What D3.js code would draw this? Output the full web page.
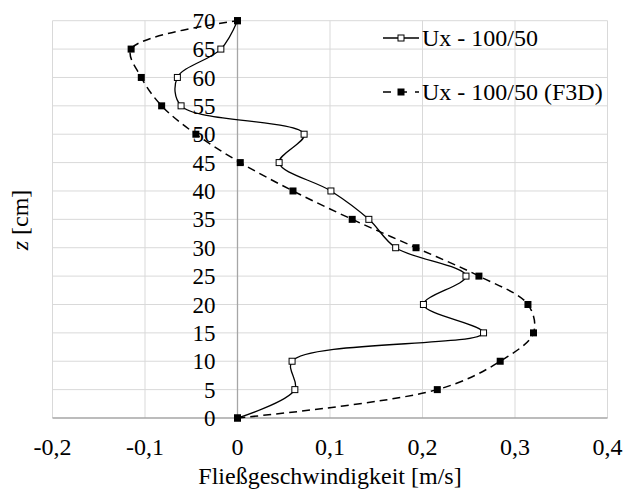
<!DOCTYPE html>
<html>
<head>
<meta charset="utf-8">
<script src="https://cdn.jsdelivr.net/npm/d3@7"></script>
<style>
  html, body { margin: 0; padding: 0; background: #fff; }
  svg text { font-family: "Liberation Serif", "Times New Roman", serif; }
</style>
</head>
<body>
<svg id="chart" width="624" height="495"></svg>
<script>
// ---- data ----
const zValues = [0, 5, 10, 15, 20, 25, 30, 35, 40, 45, 50, 55, 60, 65, 70];
const uxMeasured = [0, 0.062, 0.059, 0.266, 0.201, 0.247, 0.171, 0.142, 0.101, 0.045, 0.072, -0.061, -0.065, -0.018, 0];
const uxF3D = [0, 0.216, 0.284, 0.320, 0.314, 0.261, 0.193, 0.124, 0.060, 0.003, -0.045, -0.082, -0.104, -0.115, 0];
const seriesNames = ["Ux - 100/50", "Ux - 100/50 (F3D)"];
const xTicks = [-0.2, -0.1, 0, 0.1, 0.2, 0.3, 0.4];
const xTickLabels = ["-0,2", "-0,1", "0", "0,1", "0,2", "0,3", "0,4"];
const yTicks = [0, 5, 10, 15, 20, 25, 30, 35, 40, 45, 50, 55, 60, 65, 70];
const xTitle = "Fließgeschwindigkeit [m/s]";

const svg = d3.select("#chart");
const x = d3.scaleLinear().domain([-0.2, 0.4]).range([52.5, 607.5]);
const y = d3.scaleLinear().domain([0, 70]).range([418, 20.7]);

// gridlines
svg.append("g").selectAll("line").data(yTicks.filter(d => d !== 0)).join("line")
  .attr("x1", x(-0.2)).attr("x2", x(0.4))
  .attr("y1", d => y(d)).attr("y2", d => y(d))
  .attr("stroke", "#d9d9d9").attr("stroke-width", 1);
svg.append("g").selectAll("line").data(xTicks.filter(d => d !== 0)).join("line")
  .attr("x1", d => x(d)).attr("x2", d => x(d))
  .attr("y1", y(70)).attr("y2", y(0))
  .attr("stroke", "#d9d9d9").attr("stroke-width", 1);

// axes lines
svg.append("line").attr("x1", x(-0.2)).attr("x2", x(0.4)).attr("y1", y(0)).attr("y2", y(0))
  .attr("stroke", "#a6a6a6").attr("stroke-width", 1.3);
svg.append("line").attr("x1", x(0)).attr("x2", x(0)).attr("y1", y(0)).attr("y2", y(70))
  .attr("stroke", "#a6a6a6").attr("stroke-width", 1.3);

// y tick labels (next to the zero axis)
svg.append("g").selectAll("text").data(yTicks).join("text")
  .attr("x", x(0) - 22).attr("y", d => y(d)).attr("dy", "0.35em")
  .attr("text-anchor", "end").attr("font-size", 23).attr("fill", "#000")
  .text(d => d);

// x tick labels
svg.append("g").selectAll("text").data(xTicks).join("text")
  .attr("x", d => x(d)).attr("y", 455)
  .attr("text-anchor", "middle").attr("font-size", 24).attr("fill", "#000")
  .text((d, i) => xTickLabels[i]);

// axis titles
svg.append("text").attr("x", 330).attr("y", 484).attr("text-anchor", "middle")
  .attr("font-size", 24).attr("fill", "#000").text(xTitle);
const yt = svg.append("text").attr("transform", "translate(28,220) rotate(-90)")
  .attr("text-anchor", "middle").attr("font-size", 24).attr("fill", "#000");
yt.append("tspan").attr("font-style", "italic").text("z");
yt.append("tspan").text(" [cm]");

// lines
const line = d3.line().x(d => x(d[0])).y(d => y(d[1])).curve(d3.curveCatmullRom.alpha(0.5));
const s1 = uxMeasured.map((v, i) => [v, zValues[i]]);
const s2 = uxF3D.map((v, i) => [v, zValues[i]]);

svg.append("path").attr("d", line(s2)).attr("fill", "none").attr("stroke", "#000")
  .attr("stroke-width", 1.5).attr("stroke-dasharray", "8,5");
svg.append("path").attr("d", line(s1)).attr("fill", "none").attr("stroke", "#000")
  .attr("stroke-width", 1.3);

// markers
const os = 6, fs = 7;
svg.append("g").selectAll("rect").data(s1).join("rect")
  .attr("x", d => x(d[0]) - os / 2).attr("y", d => y(d[1]) - os / 2)
  .attr("width", os).attr("height", os)
  .attr("fill", "#fff").attr("stroke", "#000").attr("stroke-width", 1);
svg.append("g").selectAll("rect").data(s2).join("rect")
  .attr("x", d => x(d[0]) - fs / 2).attr("y", d => y(d[1]) - fs / 2)
  .attr("width", fs).attr("height", fs).attr("fill", "#000");

// legend
const lg = svg.append("g");
const lx0 = 383, lx1 = 419, tx = 422;
const ly = [38, 92];
lg.append("line").attr("x1", lx0).attr("x2", lx1).attr("y1", ly[0]).attr("y2", ly[0])
  .attr("stroke", "#000").attr("stroke-width", 1.3);
lg.append("rect").attr("x", (lx0 + lx1) / 2 - os / 2).attr("y", ly[0] - os / 2)
  .attr("width", os).attr("height", os).attr("fill", "#fff").attr("stroke", "#000");
lg.append("line").attr("x1", lx0).attr("x2", lx1).attr("y1", ly[1]).attr("y2", ly[1])
  .attr("stroke", "#000").attr("stroke-width", 1.5).attr("stroke-dasharray", "8,8");
lg.append("rect").attr("x", (lx0 + lx1) / 2 - fs / 2).attr("y", ly[1] - fs / 2)
  .attr("width", fs).attr("height", fs).attr("fill", "#000");
lg.selectAll("text").data(seriesNames).join("text")
  .attr("x", tx).attr("y", (d, i) => ly[i]).attr("dy", "0.35em")
  .attr("font-size", 24).attr("fill", "#000").text(d => d);
</script>
</body>
</html>
